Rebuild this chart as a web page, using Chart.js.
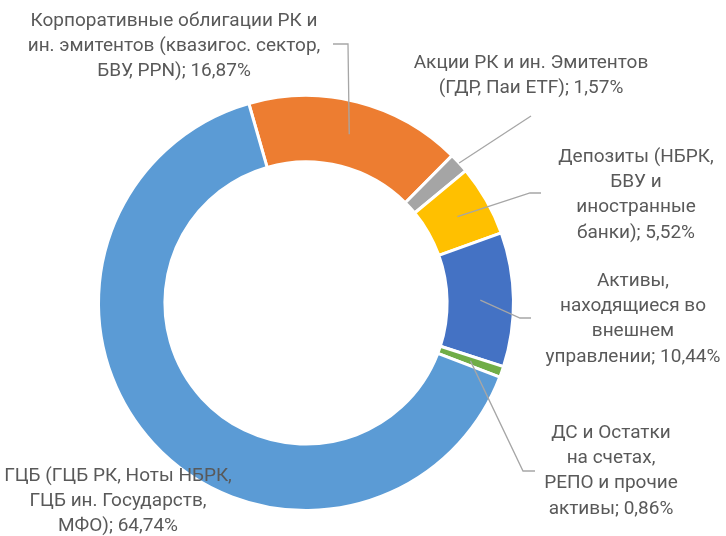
<!DOCTYPE html>
<html>
<head>
<meta charset="utf-8">
<script src="https://cdn.jsdelivr.net/npm/chart.js@4/dist/chart.umd.min.js"></script>
<style>
  html, body { margin: 0; padding: 0; background: #fff; }
  canvas { display: block; }
</style>
</head>
<body>
<canvas id="pie" width="726" height="536"></canvas>
<script>
// данные структуры портфеля
const categories = [
    "Корпоративные облигации РК и ин. эмитентов (квазигос. сектор, БВУ, PPN)",
    "Акции РК и ин. Эмитентов (ГДР, Паи ETF)",
    "Депозиты (НБРК, БВУ и иностранные банки)",
    "Активы, находящиеся во внешнем управлении",
    "ДС и Остатки на счетах, РЕПО и прочие активы",
    "ГЦБ (ГЦБ РК, Ноты НБРК, ГЦБ ин. Государств, МФО)"
];
const shares = [16.87, 1.57, 5.52, 10.44, 0.86, 64.74];
const labelLines = [
    ["Корпоративные облигации РК и", "ин. эмитентов (квазигос. сектор,", "БВУ, PPN)"],
    ["Акции РК и ин. Эмитентов", "(ГДР, Паи ETF)"],
    ["Депозиты (НБРК,", "БВУ и", "иностранные", "банки)"],
    ["Активы,", "находящиеся во", "внешнем", "управлении"],
    ["ДС и Остатки", "на счетах,", "РЕПО и прочие", "активы"],
    ["ГЦБ (ГЦБ РК, Ноты НБРК,", "ГЦБ ин. Государств,", "МФО)"]
];
const colors = ["#ED7D31", "#A5A5A5", "#FFC000", "#4472C4", "#70AD47", "#5B9BD5"];

// где стоят подписи и изломы выносок
const labelLayout = [
    { x: 174, y: 21, path: [[333, 44], [348, 44]], r: 0.5 },
    { x: 531, y: 63, path: [[531, 116]], r: 1.0 },
    { x: 636, y: 157, path: [[541, 193], [530, 193]], r: 0.5 },
    { x: 633, y: 281, path: [[531, 318], [520, 318]], r: 0.5 },
    { x: 611, y: 433, path: [[535, 471], [523, 471]], r: 0.5 },
    { x: 118, y: 476, path: null, r: 0.5 }
];

function fmt(v) {
    return v.toFixed(2).replace(".", ",") + "%";
}

const labelsPlugin = {
    id: "outsideLabels",
    afterDraw(chart) {
        const ctx = chart.ctx;
        const arcs = chart.getDatasetMeta(0).data;
        ctx.save();
        arcs.forEach(function (arc, i) {
            const lay = labelLayout[i];
            const p = arc.getProps(["x", "y", "startAngle", "endAngle", "innerRadius", "outerRadius"], true);
            if (lay.path) {
                const mid = (p.startAngle + p.endAngle) / 2;
                const rr = p.innerRadius + (p.outerRadius - p.innerRadius) * lay.r;
                const ax = p.x + Math.cos(mid) * rr;
                const ay = p.y + Math.sin(mid) * rr;
                ctx.beginPath();
                ctx.moveTo(lay.path[0][0], lay.path[0][1]);
                for (let k = 1; k < lay.path.length; k++) {
                    ctx.lineTo(lay.path[k][0], lay.path[k][1]);
                }
                ctx.lineTo(ax, ay);
                ctx.strokeStyle = "#A6A6A6";
                ctx.lineWidth = 1.3;
                ctx.stroke();
            }
            const lines = labelLines[i].slice();
            lines[lines.length - 1] += "; " + fmt(shares[i]);
            ctx.fillStyle = "#595959";
            ctx.font = "19px Roboto";
            ctx.textAlign = "center";
            ctx.textBaseline = "middle";
            lines.forEach(function (t, j) {
                ctx.fillText(t, lay.x, lay.y + j * 25.3);
            });
        });
        ctx.restore();
    }
};

new Chart(document.getElementById("pie"), {
    type: "doughnut",
    data: {
        labels: categories,
        datasets: [{
            data: shares,
            backgroundColor: colors,
            borderColor: "#ffffff",
            borderWidth: 3
        }]
    },
    options: {
        responsive: false,
        animation: false,
        rotation: -16,
        cutout: "68%",
        layout: { padding: { left: 97, top: 94, right: 211, bottom: 24 } },
        plugins: {
            legend: { display: false },
            tooltip: { enabled: false }
        }
    },
    plugins: [labelsPlugin]
});
</script>
</body>
</html>
